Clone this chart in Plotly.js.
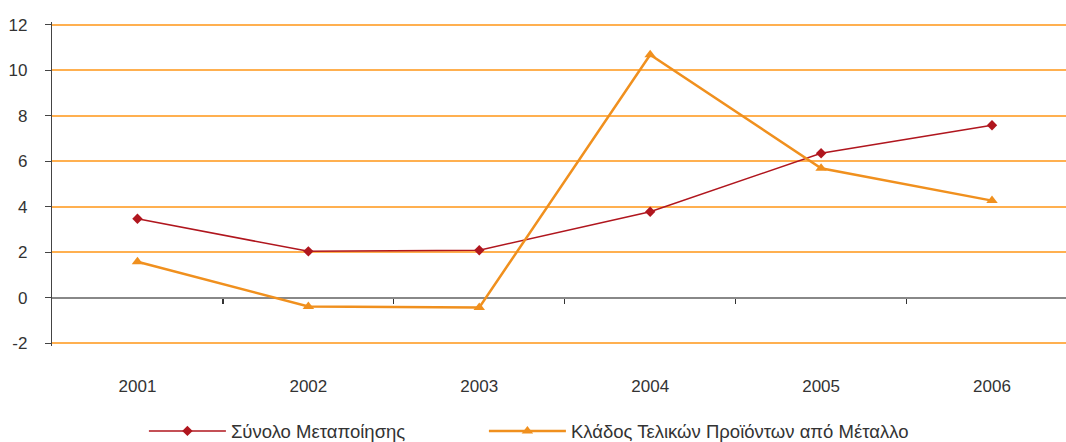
<!DOCTYPE html>
<html>
<head>
<meta charset="utf-8">
<script src="https://cdn.plot.ly/plotly-3.0.1.min.js"></script>
<style>html,body{margin:0;padding:0;background:#fff;}#chart{width:1066px;height:442px;}</style>
</head>
<body>
<div id="chart"></div>
<script>
var years = ['2001', '2002', '2003', '2004', '2005', '2006'];
var totalManufacturing = [3.47, 2.04, 2.09, 3.78, 6.35, 7.58];
var metalProducts = [1.58, -0.38, -0.43, 10.68, 5.69, 4.27];
var seriesNames = ['Σύνολο Μεταποίησης', 'Κλάδος Τελικών Προϊόντων από Μέταλλο'];
var yTicks = [-2, 0, 2, 4, 6, 8, 10, 12];
var yTickText = ['-2', '0', '2', '4', '6', '8', '10', '12'];
var boundaryTicks = [0.5, 1.5, 2.5, 3.5, 4.5];

var FONT = 'Liberation Sans, Arial, sans-serif';
var traces = [
  {x: years, y: totalManufacturing, name: seriesNames[0], type: 'scatter', mode: 'lines+markers',
   legend: 'legend',
   line: {color: '#B0161E', width: 1.5}, marker: {symbol: 'diamond', size: 8, color: '#B0161E'}},
  {x: years, y: metalProducts, name: seriesNames[1], type: 'scatter', mode: 'lines+markers',
   legend: 'legend2',
   line: {color: '#F0901E', width: 2.5}, marker: {symbol: 'triangle-up', size: 10, color: '#F0901E'}}
];
var legendBase = {orientation: 'h', xref: 'container', y: 0.024, yref: 'container',
                  yanchor: 'middle', xanchor: 'left', itemwidth: 77, bgcolor: 'rgba(0,0,0,0)',
                  font: {family: FONT, size: 18.5, color: '#333'}};
var yPad = 0.12;
var layout = {
  width: 1066, height: 442,
  margin: {l: 52, r: 0, t: 21.6, b: 96.3},
  paper_bgcolor: '#fff', plot_bgcolor: '#fff',
  font: {family: FONT, size: 17, color: '#333'},
  showlegend: true,
  legend: Object.assign({}, legendBase, {x: 0.135}),
  legend2: Object.assign({}, legendBase, {x: 0.135 + 340 / 1066}),
  xaxis: {type: 'category', range: [-0.5, 5.433], showgrid: false, zeroline: false, showline: false,
          ticks: '', ticklabelstandoff: 28, tickfont: {size: 17}, fixedrange: true},
  xaxis2: {type: 'linear', overlaying: 'x', anchor: 'free', position: (2 + yPad) / (14 + 2 * yPad), side: 'bottom',
           range: [-0.5, 5.433], tickmode: 'array', tickvals: boundaryTicks, showticklabels: false,
           ticks: 'outside', ticklen: 5, tickwidth: 1.2, tickcolor: '#333', showgrid: false,
           zeroline: false, showline: false},
  yaxis: {range: [-2 - yPad, 12 + yPad], tickmode: 'array', tickvals: yTicks, ticktext: yTickText, showgrid: true,
          gridcolor: '#FFB050', gridwidth: 1.6, zeroline: true, zerolinecolor: '#888', zerolinewidth: 1.6,
          showline: true, linecolor: '#444', linewidth: 1.2, ticks: 'outside', ticklen: 6,
          tickcolor: '#444', ticklabelstandoff: 14, tickfont: {size: 17}, fixedrange: true}
};
traces.push({x: [], y: [], xaxis: 'x2', yaxis: 'y', showlegend: false, hoverinfo: 'skip', type: 'scatter'});
Plotly.newPlot('chart', traces, layout, {displayModeBar: false, staticPlot: true});
</script>
</body>
</html>
